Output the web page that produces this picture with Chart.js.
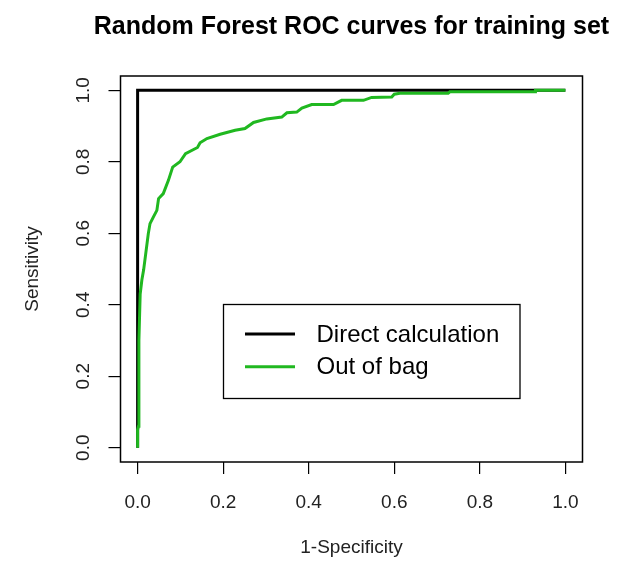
<!DOCTYPE html>
<html>
<head>
<meta charset="utf-8">
<script src="https://cdn.jsdelivr.net/npm/chart.js@4.4.1/dist/chart.umd.min.js"></script>
<style>
    body { margin: 0; background: #fff; }
    #wrap { width: 622px; height: 566px; }
</style>
</head>
<body>
<div id="wrap"><canvas id="roc" width="622" height="566"></canvas></div>
<script>
// ===== DATA =====
const CHART_TITLE = 'Random Forest ROC curves for training set';
const SERIES_NAMES = ['Direct calculation', 'Out of bag'];
const SERIES_COLORS = ['#000000', '#20b820'];
const TICK_VALUES = [0, 0.2, 0.4, 0.6, 0.8, 1.0];

// direct calculation: perfect fit on the training set
const directX = [0, 0, 1];
const directY = [0, 1, 1];

// out-of-bag ROC curve (1-specificity, sensitivity)
const oobX = [0, 0, 0.002, 0.003, 0.006, 0.010, 0.014, 0.019, 0.025, 0.029,
    0.037, 0.045, 0.049, 0.060, 0.072, 0.082, 0.099, 0.112, 0.140, 0.146,
    0.162, 0.193, 0.228, 0.251, 0.271, 0.302, 0.337, 0.349, 0.372, 0.384,
    0.407, 0.458, 0.477, 0.528, 0.547, 0.594, 0.600, 0.613, 0.726, 0.730,
    0.929, 0.930, 1.0];
const oobY = [0, 0.05, 0.06, 0.30, 0.43, 0.47, 0.497, 0.543, 0.599, 0.627,
    0.646, 0.664, 0.697, 0.711, 0.748, 0.785, 0.800, 0.823, 0.840, 0.853,
    0.865, 0.877, 0.888, 0.893, 0.910, 0.920, 0.925, 0.937, 0.939, 0.950,
    0.960, 0.960, 0.972, 0.972, 0.980, 0.981, 0.989, 0.992, 0.992, 0.996,
    0.996, 1.0, 1.0];

const FONT = "'Liberation Sans', Arial, Helvetica, sans-serif";

function toPoints(xs, ys) {
    return xs.map((x, i) => ({ x: x, y: ys[i] }));
}

function keepTicks(scale) {
    scale.ticks = scale.ticks.filter(t => TICK_VALUES.some(v => Math.abs(v - t.value) < 1e-9));
}

// ===== PLUGINS =====
// box around the plot region, R style
const boxPlugin = {
    id: 'box',
    afterDatasetsDraw(chart) {
        const { ctx, chartArea: a } = chart;
        ctx.save();
        ctx.strokeStyle = '#000';
        ctx.lineWidth = 1.5;
        ctx.strokeRect(a.left, a.top, a.right - a.left, a.bottom - a.top);
        ctx.restore();
    }
};

// main title centred over the plot region (R centres on the plot, not the page)
const titlePlugin = {
    id: 'plotTitle',
    afterDraw(chart) {
        const { ctx, chartArea: a } = chart;
        ctx.save();
        ctx.font = 'bold 25px ' + FONT;
        ctx.fillStyle = '#000';
        ctx.textAlign = 'center';
        ctx.textBaseline = 'middle';
        ctx.fillText(CHART_TITLE, (a.left + a.right) / 2, 27);
        ctx.restore();
    }
};

// rotated y tick labels (R las=0)
const yLabelPlugin = {
    id: 'yLabels',
    afterDraw(chart) {
        const { ctx } = chart;
        const y = chart.scales.y;
        ctx.save();
        ctx.font = '19px ' + FONT;
        ctx.fillStyle = '#222';
        ctx.textAlign = 'center';
        ctx.textBaseline = 'middle';
        y.ticks.forEach(t => {
            const py = y.getPixelForValue(t.value);
            ctx.save();
            ctx.translate(84, py);
            ctx.rotate(-Math.PI / 2);
            ctx.fillText(t.value.toFixed(1), 0, 0);
            ctx.restore();
        });
        ctx.restore();
    }
};

// legend box inside the plot
const legendPlugin = {
    id: 'boxLegend',
    afterDraw(chart) {
        const { ctx } = chart;
        ctx.save();
        ctx.strokeStyle = '#000';
        ctx.lineWidth = 1.3;
        ctx.strokeRect(223.5, 304.5, 296.5, 94);
        ctx.font = '24px ' + FONT;
        ctx.textAlign = 'left';
        ctx.textBaseline = 'middle';
        chart.data.datasets.forEach((ds, i) => {
            const ly = 334 + i * 32.7;
            ctx.strokeStyle = ds.borderColor;
            ctx.lineWidth = 3;
            ctx.beginPath();
            ctx.moveTo(245, ly);
            ctx.lineTo(295, ly);
            ctx.stroke();
            ctx.fillStyle = '#000';
            ctx.fillText(ds.label, 316.5, ly + 1);
        });
        ctx.restore();
    }
};

// ===== CHART =====
const ctx = document.getElementById('roc');
new Chart(ctx, {
    type: 'scatter',
    data: {
        datasets: [
            {
                label: SERIES_NAMES[0],
                data: toPoints(directX, directY),
                borderColor: SERIES_COLORS[0],
                borderWidth: 3,
                showLine: true,
                pointRadius: 0,
                order: 1
            },
            {
                label: SERIES_NAMES[1],
                data: toPoints(oobX, oobY),
                borderColor: SERIES_COLORS[1],
                borderWidth: 3,
                showLine: true,
                pointRadius: 0,
                order: 0
            }
        ]
    },
    options: {
        responsive: false,
        animation: false,
        layout: { padding: { left: 0, right: 39.5, top: 76, bottom: 0 } },
        plugins: {
            legend: { display: false },
            tooltip: { enabled: false },
            title: { display: false }
        },
        scales: {
            x: {
                type: 'linear',
                min: -0.04,
                max: 1.04,
                afterBuildTicks: keepTicks,
                afterFit(scale) { scale.height = 104; },
                grid: { drawOnChartArea: false, drawTicks: true, tickLength: 12, color: '#000', lineWidth: 1.2 },
                border: { display: false },
                ticks: {
                    stepSize: 0.2,
                    includeBounds: false,
                    maxRotation: 0,
                    padding: 17,
                    color: '#222',
                    font: { family: FONT, size: 19 },
                    callback: v => Number(v).toFixed(1)
                },
                title: {
                    display: true,
                    text: '1-Specificity',
                    color: '#222',
                    font: { family: FONT, size: 19 },
                    padding: { top: 0, bottom: 7 }
                }
            },
            y: {
                type: 'linear',
                min: -0.04,
                max: 1.04,
                afterBuildTicks: keepTicks,
                afterFit(scale) { scale.width = 120.5; },
                grid: { drawOnChartArea: false, drawTicks: true, tickLength: 12, color: '#000', lineWidth: 1.2 },
                border: { display: false },
                ticks: {
                    stepSize: 0.2,
                    includeBounds: false,
                    color: 'rgba(0,0,0,0)',
                    font: { family: FONT, size: 19 },
                    callback: v => Number(v).toFixed(1)
                },
                title: {
                    display: true,
                    text: 'Sensitivity',
                    color: '#222',
                    font: { family: FONT, size: 19 },
                    padding: { top: 21, bottom: 0 }
                }
            }
        }
    },
    plugins: [boxPlugin, titlePlugin, yLabelPlugin, legendPlugin]
});
</script>
</body>
</html>
